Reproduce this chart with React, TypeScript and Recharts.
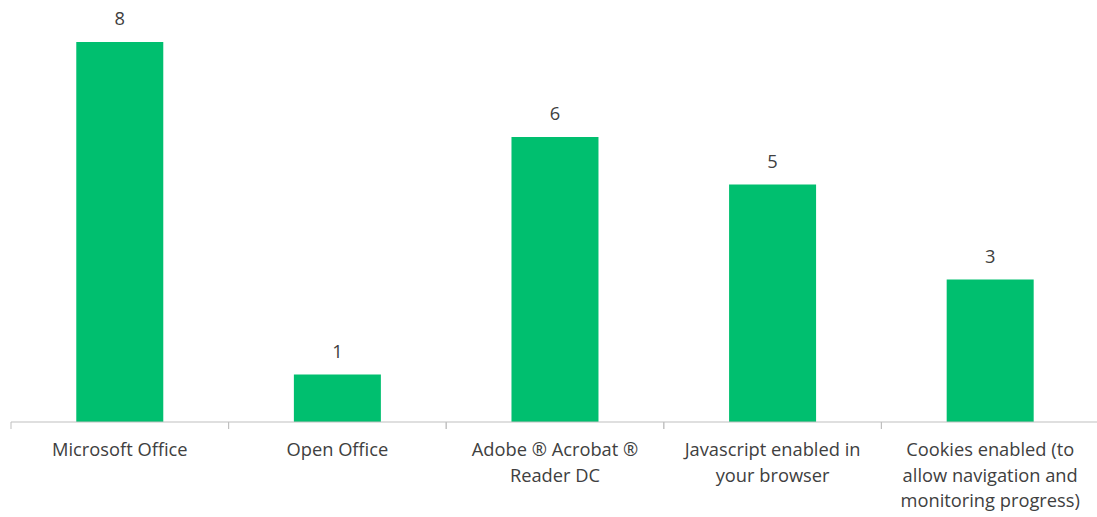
import React from "react";
import { BarChart, Bar, XAxis, YAxis, LabelList } from "recharts";

const categories = [
  "Microsoft Office",
  "Open Office",
  "Adobe ® Acrobat ®\nReader DC",
  "Javascript enabled in\nyour browser",
  "Cookies enabled (to\nallow navigation and\nmonitoring progress)",
];
const counts = [8, 1, 6, 5, 3];

const data = categories.map((name, i) => ({ name, value: counts[i] }));

const FONT = "'Open Sans', sans-serif";
const TEXT = "#404040";
const AXIS = "#bfbfbf";

const CategoryTick = (props: any) => {
  const { x, y, payload } = props;
  const half = payload && typeof payload.offset === "number" ? payload.offset : 0;
  const lines = String(payload.value).split("\n");
  return (
    <g>
      <line x1={x - half} x2={x - half} y1={y} y2={y + 7} stroke={AXIS} strokeWidth={1} />
      <line x1={x + half} x2={x + half} y1={y} y2={y + 7} stroke={AXIS} strokeWidth={1} />
      <text x={x} y={y} textAnchor="middle" fill={TEXT} fontFamily={FONT} fontSize={18.3}>
        {lines.map((l, i) => (
          <tspan key={i} x={x} dy={i === 0 ? 34 : 25.5}>
            {l}
          </tspan>
        ))}
      </text>
    </g>
  );
};

export default function App() {
  return (
    <div style={{ position: "absolute", left: 0, top: 0, width: 1097, height: 517, overflow: "hidden", background: "#fff" }}>
      <BarChart
        width={1099}
        height={517}
        data={data}
        margin={{ top: 42, right: 0, left: 11, bottom: 0 }}
        barCategoryGap="30%"
      >
        <XAxis
          dataKey="name"
          height={95}
          axisLine={{ stroke: AXIS, strokeWidth: 1 }}
          tickLine={false}
          tickSize={0}
          tickMargin={0}
          interval={0}
          tick={<CategoryTick />}
        />
        <YAxis hide domain={[0, 8]} />
        <Bar dataKey="value" fill="#00BF6F" isAnimationActive={false}>
          <LabelList
            dataKey="value"
            position="top"
            offset={17}
            fill={TEXT}
            fontFamily={FONT}
            fontSize={18.3}
          />
        </Bar>
      </BarChart>
    </div>
  );
}
